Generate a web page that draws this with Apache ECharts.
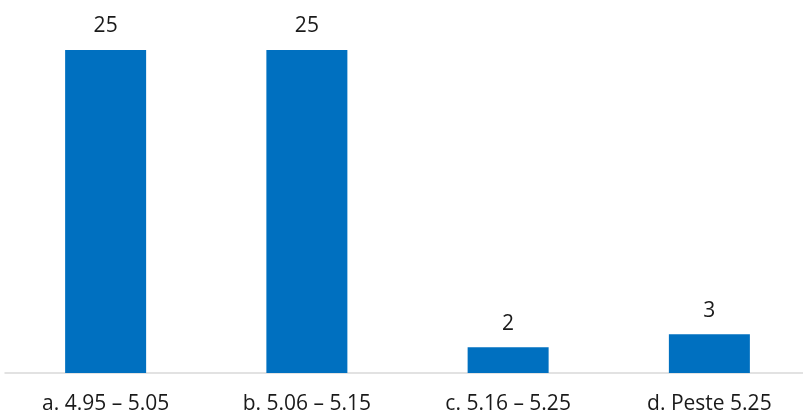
<!DOCTYPE html>
<html><head><meta charset="utf-8">
<script src="https://cdn.jsdelivr.net/npm/echarts@6/dist/echarts.min.js"></script>
<style>html,body{margin:0;padding:0;background:#fff}#c{width:803px;height:416px}</style>
</head><body><div id="c"></div>
<script>
const categories = ["a. 4.95 – 5.05", "b. 5.06 – 5.15", "c. 5.16 – 5.25", "d. Peste 5.25"];
const values = [25, 25, 2, 3];
const chart = echarts.init(document.getElementById('c'), null, {renderer: 'canvas'});
const font = "'Open Sans', sans-serif";
chart.setOption({
  animation: false,
  grid: {left: 5, width: 805, top: 50, bottom: 43, containLabel: false, outerBoundsMode: 'none'},
  xAxis: {
    type: 'category', data: categories,
    axisLine: {show: true, lineStyle: {color: '#d9d9d9', width: 1.5}},
    axisTick: {show: false},
    axisLabel: {color: '#1a1a1a', fontSize: 21, fontFamily: font, margin: 21, interval: 0}
  },
  yAxis: {type: 'value', min: 0, max: 25, show: false, splitLine: {show: false}},
  series: [{
    type: 'bar', data: values, barWidth: 81,
    itemStyle: {color: '#0070C0'},
    label: {show: true, position: 'top', distance: 13, color: '#1a1a1a', fontSize: 21, fontFamily: font}
  }]
});
</script></body></html>
